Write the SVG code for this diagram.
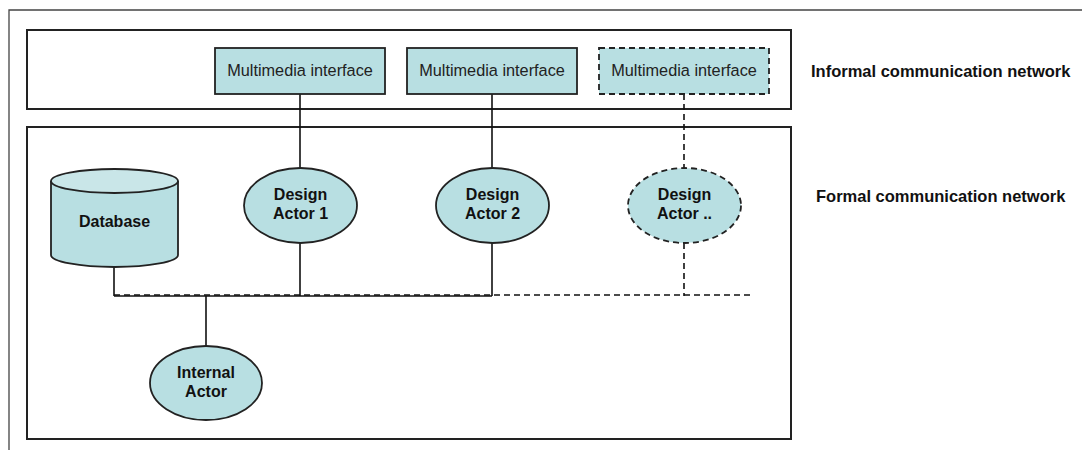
<svg xmlns="http://www.w3.org/2000/svg" width="1082" height="450" viewBox="0 0 1082 450">
  <style>
    .frame{fill:none;stroke:#444;stroke-width:1.3}
    .box{fill:none;stroke:#222;stroke-width:2}
    .node{fill:#b8dfe2;stroke:#222;stroke-width:1.8}
    .dash{stroke-dasharray:6,4}
    .conn{fill:none;stroke:#111;stroke-width:1.6}
    .t{font-family:"Liberation Sans",Arial,sans-serif;font-size:16.3px;fill:#222;text-anchor:middle}
    .b{font-family:"Liberation Sans",Arial,sans-serif;font-size:16px;font-weight:bold;fill:#111;text-anchor:middle}
    .lbl{font-family:"Liberation Sans",Arial,sans-serif;font-size:16.5px;font-weight:bold;fill:#111}
  </style>
  <rect width="1082" height="450" fill="#fff"/>
  <g id="frame">
    <path class="frame" d="M9,450 V10 H1082"/>
  </g>
  <g id="informal-network">
    <rect class="box" x="27" y="30" width="764" height="79"/>
  </g>
  <g id="formal-network">
    <rect class="box" x="27" y="127" width="764" height="312"/>
  </g>
  <g id="connectors">
    <line class="conn" x1="300" y1="94" x2="300" y2="168"/>
    <line class="conn" x1="300" y1="243" x2="300" y2="296"/>
    <line class="conn" x1="492" y1="94" x2="492" y2="168"/>
    <line class="conn" x1="492" y1="243" x2="492" y2="296"/>
    <line class="conn dash" x1="684" y1="94" x2="684" y2="168"/>
    <line class="conn dash" x1="684" y1="243" x2="684" y2="296"/>
    <line class="conn" x1="114" y1="267" x2="114" y2="296"/>
    <line class="conn" x1="114" y1="296" x2="492" y2="296"/>
    <line class="conn dash" x1="114" y1="295" x2="750" y2="295"/>
    <line class="conn" x1="206" y1="296" x2="206" y2="346"/>
  </g>
  <g id="mi1">
    <rect class="node" x="215" y="48" width="170" height="46"/>
    <text class="t" x="300" y="76">Multimedia interface</text>
  </g>
  <g id="mi2">
    <rect class="node" x="407" y="48" width="170" height="46"/>
    <text class="t" x="492" y="76">Multimedia interface</text>
  </g>
  <g id="mi3">
    <rect class="node dash" x="599" y="48" width="170" height="46"/>
    <text class="t" x="684" y="76">Multimedia interface</text>
  </g>
  <g id="database">
    <path class="node" d="M51,181 V255 A63.5,12 0 0 0 178,255 V181"/>
    <ellipse class="node" cx="114.5" cy="181" rx="63.5" ry="12" style="fill:#c9e6e8"/>
    <text class="b" x="114.5" y="227">Database</text>
  </g>
  <g id="design-actor-1">
    <ellipse class="node" cx="300.5" cy="205.5" rx="56.5" ry="37.5"/>
    <text class="b" x="300.5" y="200">Design</text>
    <text class="b" x="300.5" y="219">Actor 1</text>
  </g>
  <g id="design-actor-2">
    <ellipse class="node" cx="492.5" cy="205.5" rx="56.5" ry="37.5"/>
    <text class="b" x="492.5" y="200">Design</text>
    <text class="b" x="492.5" y="219">Actor 2</text>
  </g>
  <g id="design-actor-n">
    <ellipse class="node dash" cx="684.5" cy="205.5" rx="56.5" ry="37.5"/>
    <text class="b" x="684.5" y="200">Design</text>
    <text class="b" x="684.5" y="219">Actor ..</text>
  </g>
  <g id="internal-actor">
    <ellipse class="node" cx="206" cy="383" rx="56" ry="37"/>
    <text class="b" x="206" y="378">Internal</text>
    <text class="b" x="206" y="397">Actor</text>
  </g>
  <g id="labels">
    <text class="lbl" x="811" y="77">Informal communication network</text>
    <text class="lbl" x="816" y="202">Formal communication network</text>
  </g>
</svg>
